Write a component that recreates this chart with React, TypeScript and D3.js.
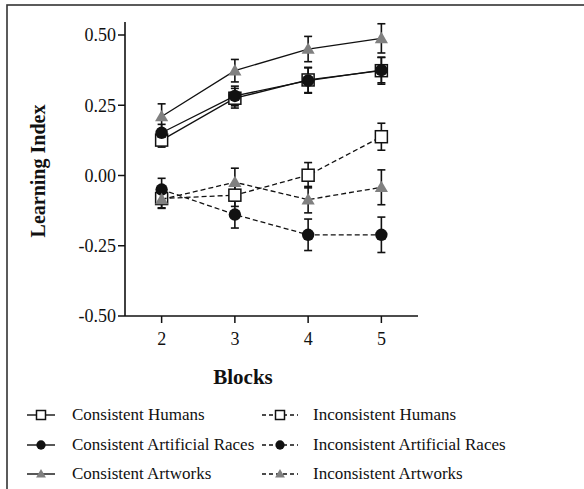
import * as d3 from 'd3';

const blocks = [2, 3, 4, 5];
const yTicks = [-0.5, -0.25, 0, 0.25, 0.5];

const consHumans = [0.126, 0.275, 0.34, 0.373];
const consHumansErr = [0.025, 0.035, 0.045, 0.048];
const consRaces = [0.152, 0.283, 0.338, 0.375];
const consRacesErr = [0.03, 0.035, 0.045, 0.045];
const consArt = [0.21, 0.373, 0.45, 0.488];
const consArtErr = [0.045, 0.04, 0.045, 0.052];
const incHumans = [-0.082, -0.07, 0.001, 0.138];
const incHumansErr = [0.035, 0.04, 0.045, 0.048];
const incRaces = [-0.05, -0.139, -0.211, -0.211];
const incRacesErr = [0.04, 0.048, 0.056, 0.063];
const incArt = [-0.085, -0.024, -0.086, -0.042];
const incArtErr = [0.03, 0.05, 0.047, 0.062];

const series = [
    { name: 'Consistent Humans', values: consHumans, err: consHumansErr, shape: 'square', dashed: false },
    { name: 'Consistent Artificial Races', values: consRaces, err: consRacesErr, shape: 'circle', dashed: false },
    { name: 'Consistent Artworks', values: consArt, err: consArtErr, shape: 'triangle', dashed: false },
    { name: 'Inconsistent Humans', values: incHumans, err: incHumansErr, shape: 'square', dashed: true },
    { name: 'Inconsistent Artificial Races', values: incRaces, err: incRacesErr, shape: 'circle', dashed: true },
    { name: 'Inconsistent Artworks', values: incArt, err: incArtErr, shape: 'triangle', dashed: true },
];

const font = "'Liberation Serif', 'Times New Roman', serif";
const ink = '#111';
const gray = '#808080';

const Marker = ({ shape, x, y, k = 1 }: { shape: string; x: number; y: number; k?: number }) => {
    if (shape === 'square') {
        const s = 12 * k;
        return <rect x={x - s / 2} y={y - s / 2} width={s} height={s} fill="#fff" stroke={ink} strokeWidth={1.5} />;
    }
    if (shape === 'circle') {
        return <circle cx={x} cy={y} r={6.2 * k} fill={ink} />;
    }
    const tri = d3.symbol().type(d3.symbolTriangle).size(75 * k * k)();
    return <path d={tri || ''} transform={`translate(${x},${y + k})`} fill={gray} />;
};

const App = () => {
    const width = 584, height = 489;
    const left = 125, right = 418, top = 35, bottom = 316;

    const x = d3.scaleLinear().domain([1.5, 5.5]).range([left, right]);
    const y = d3.scaleLinear().domain([-0.5, 0.5]).range([bottom, top]);

    const line = d3.line<number>().x((d, i) => x(blocks[i])).y((d) => y(d));

    const legendRows = [415, 445, 474];
    const legendCols = [{ sx: 27, tx: 72 }, { sx: 262, tx: 313 }];

    return (
        <svg width={width} height={height} style={{ position: 'absolute', left: 0, top: 0, background: '#fff', fontFamily: font }}>
            <rect x={7} y={5} width={590} height={500} fill="none" stroke="#333" strokeWidth={1.6} />

            {/* axes */}
            <line x1={left} x2={left} y1={22} y2={bottom} stroke={ink} strokeWidth={1.6} />
            <line x1={left} x2={right} y1={bottom} y2={bottom} stroke={ink} strokeWidth={1.6} />
            {yTicks.map((t) => (
                <g key={t}>
                    <line x1={left - 7} x2={left} y1={y(t)} y2={y(t)} stroke={ink} strokeWidth={1.5} />
                    <text x={left - 9} y={y(t)} dy="0.35em" textAnchor="end" fontSize={18} fill={ink}>
                        {t.toFixed(2)}
                    </text>
                </g>
            ))}
            {blocks.map((b) => (
                <g key={b}>
                    <line x1={x(b)} x2={x(b)} y1={bottom} y2={bottom + 7} stroke={ink} strokeWidth={1.5} />
                    <text x={x(b)} y={bottom + 23} dy="0.35em" textAnchor="middle" fontSize={18} fill={ink}>
                        {b}
                    </text>
                </g>
            ))}
            <text x={243} y={377} dy="0.35em" textAnchor="middle" fontSize={21} fontWeight="bold" fill={ink}>
                Blocks
            </text>
            <text transform="translate(38,171) rotate(-90)" dy="0.35em" textAnchor="middle" fontSize={20} fontWeight="bold" fill={ink}>
                Learning Index
            </text>

            {/* error bars */}
            {series.map((s) => (
                <g key={s.name + 'err'}>
                    {s.values.map((v, i) => {
                        const cx = x(blocks[i]);
                        const y0 = y(v + s.err[i]), y1 = y(v - s.err[i]);
                        return (
                            <g key={i} stroke={ink} strokeWidth={1.6}>
                                <line x1={cx} x2={cx} y1={y0} y2={y1} />
                                <line x1={cx - 4} x2={cx + 4} y1={y0} y2={y0} />
                                <line x1={cx - 4} x2={cx + 4} y1={y1} y2={y1} />
                            </g>
                        );
                    })}
                </g>
            ))}

            {/* lines + markers */}
            {series.map((s) => (
                <g key={s.name}>
                    <path d={line(s.values) || ''} fill="none" stroke={ink} strokeWidth={1.3} strokeDasharray={s.dashed ? '5,3' : undefined} />
                    {s.values.map((v, i) => (
                        <Marker key={i} shape={s.shape} x={x(blocks[i])} y={y(v)} />
                    ))}
                </g>
            ))}

            {/* legend */}
            {series.map((s, i) => {
                const col = legendCols[s.dashed ? 1 : 0];
                const ry = legendRows[i % 3];
                const len = s.dashed ? 36 : 28;
                return (
                    <g key={s.name + 'leg'}>
                        <line x1={col.sx} x2={col.sx + len} y1={ry} y2={ry} stroke={ink} strokeWidth={1.4} strokeDasharray={s.dashed ? '4,3' : undefined} />
                        <Marker shape={s.shape} x={col.sx + len / 2} y={ry} k={0.75} />
                        <text x={col.tx} y={ry} dy="0.32em" fontSize={17} fill={ink}>
                            {s.name}
                        </text>
                    </g>
                );
            })}
        </svg>
    );
};

export default App;
